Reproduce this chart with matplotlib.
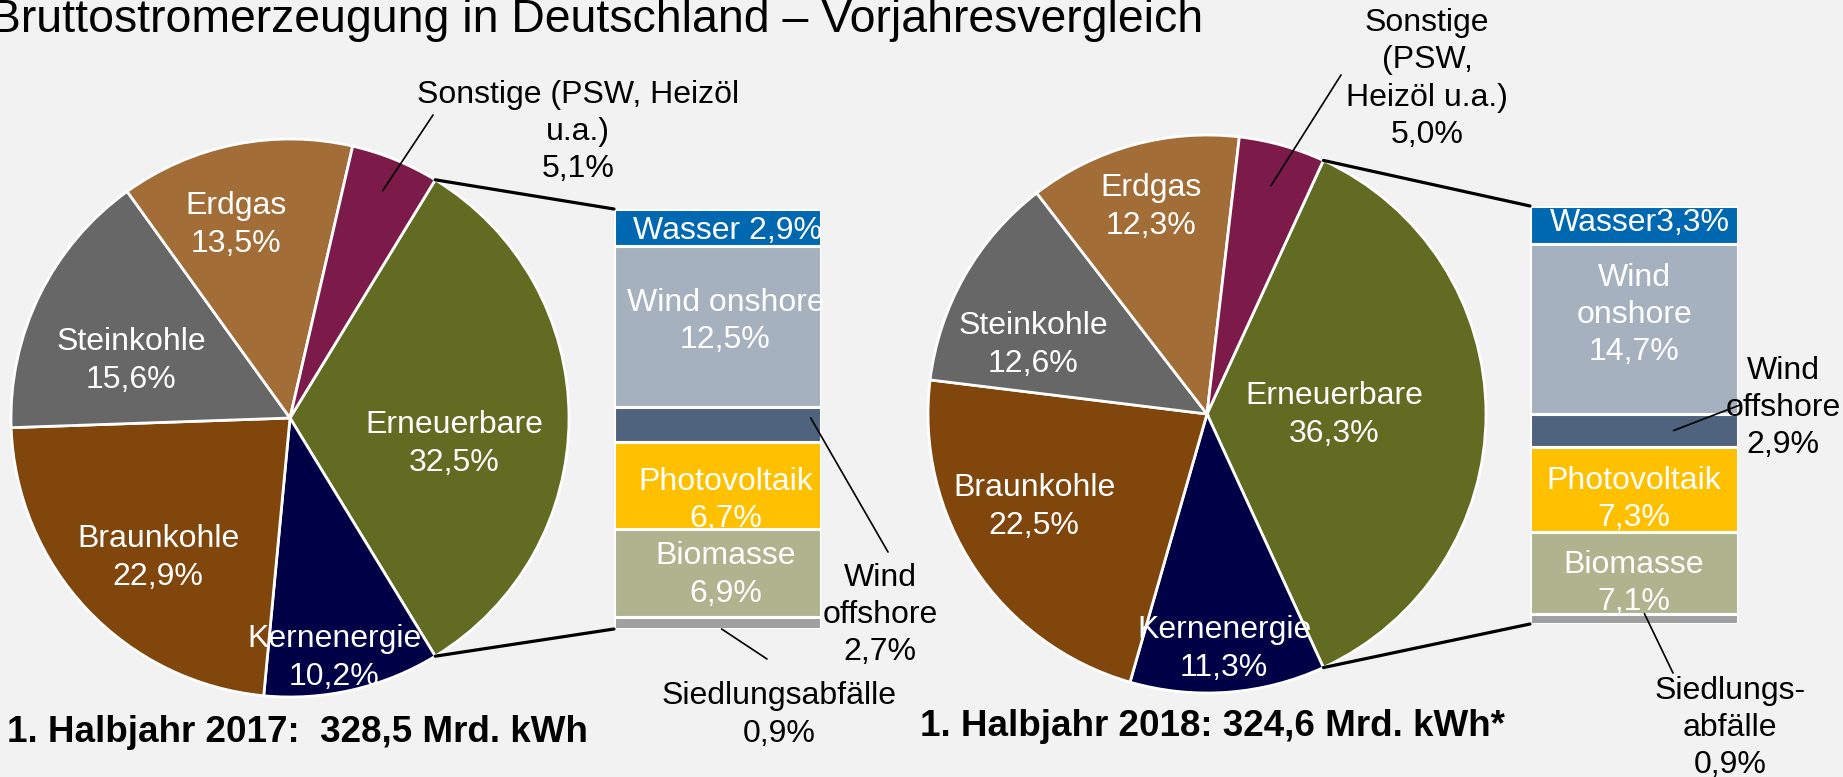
import matplotlib
matplotlib.use("Agg")
import matplotlib.pyplot as plt
from matplotlib.patches import ConnectionPatch
import numpy as np

plt.rcParams['font.family'] = ['Liberation Sans', 'DejaVu Sans']

# ---------------- data ----------------
pie_categories = ["Erneuerbare", "Kernenergie", "Braunkohle", "Steinkohle", "Erdgas",
                  "Sonstige (PSW, Heizöl u.a.)"]
pie_values_2017 = [32.5, 10.2, 22.9, 15.6, 13.5, 5.1]
pie_values_2018 = [36.3, 11.3, 22.5, 12.6, 12.3, 5.0]
bar_categories = ["Wasser", "Wind onshore", "Wind offshore", "Photovoltaik", "Biomasse",
                  "Siedlungsabfälle"]
bar_values_2017 = [2.9, 12.5, 2.7, 6.7, 6.9, 0.9]
bar_values_2018 = [3.3, 14.7, 2.9, 7.3, 7.1, 0.9]
period_titles = ["1. Halbjahr 2017:  328,5 Mrd. kWh", "1. Halbjahr 2018: 324,6 Mrd. kWh*"]
main_title = "Bruttostromerzeugung in Deutschland – Vorjahresvergleich"

# display names (line wrapping as in the original)
pie_names_2017 = ["Erneuerbare", "Kernenergie", "Braunkohle", "Steinkohle", "Erdgas",
                  "Sonstige (PSW, Heizöl\nu.a.)"]
pie_names_2018 = ["Erneuerbare", "Kernenergie", "Braunkohle", "Steinkohle", "Erdgas",
                  "Sonstige\n(PSW,\nHeizöl u.a.)"]
bar_names_2017 = ["Wasser ", "Wind onshore\n", "Wind\noffshore\n", "Photovoltaik\n",
                  "Biomasse\n", "Siedlungsabfälle\n"]
bar_names_2018 = ["Wasser", "Wind\nonshore\n", "Wind\noffshore\n", "Photovoltaik\n",
                  "Biomasse\n", "Siedlungs-\nabfälle\n"]

pie_colors = ["#616B22", "#000046", "#80460C", "#676767", "#A26D36", "#7C1B4A"]
bar_colors = ["#0068B0", "#A6B1BF", "#4F627E", "#FFC000", "#AFB38E", "#A0A0A0"]
BG = "#F2F2F2"


def pct(v):
    return f"{v:.1f}".replace(".", ",") + "%"


# ---------------- layout ----------------
W, H = 1843, 777
FS = 23
LS = 1.31
fig = plt.figure(figsize=(W / 100, H / 100), dpi=100, facecolor=BG)

ov = fig.add_axes([0, 0, 1, 1], zorder=10)
ov.set_xlim(0, W)
ov.set_ylim(H, 0)
ov.axis('off')
ov.patch.set_alpha(0)


def add_axes_px(x0, y0, x1, y1, **kw):
    return fig.add_axes([x0 / W, 1 - y1 / H, (x1 - x0) / W, (y1 - y0) / H], **kw)


panels = [
    dict(vals=pie_values_2017, names=pie_names_2017, bvals=bar_values_2017, bnames=bar_names_2017,
         center=(290, 418), r=279, bar=(614, 209, 821, 629),
         label_pos=[(454, 444), (334, 658), (158, 558), (131, 361), (236, 225)],
         sonst_pos=(578, 132), sonst_line=(0.88, (433, 115)),
         bdx=[10, 8, 0, 8, 8, 0], bdy=[3, -5, 0, 15, 2, 0],
         out_pos={2: (880, 615), 5: (779, 715)},
         out_line={2: ((0.45, 0.3), (888, 552)), 5: ((0.02, 1.0), (767, 659))},
         title=period_titles[0], title_pos=(7, 733)),
    dict(vals=pie_values_2018, names=pie_names_2018, bvals=bar_values_2018, bnames=bar_names_2018,
         center=(1207, 414), r=279, bar=(1530, 206, 1738, 624),
         label_pos=[(1334, 415), (1224, 649), (1034, 507), (1033, 345), (1151, 207)],
         sonst_pos=(1427, 79), sonst_line=(0.85, (1341, 75)),
         bdx=[6, 0, 0, 0, 0, 0], bdy=[-2, -14, 0, 10, 11, 0],
         out_pos={2: (1783, 408), 5: (1730, 728)},
         out_line={2: ((0.19, 0.5), (1740, 405)), 5: ((0.05, 0.0), (1673, 673))},
         title=period_titles[1], title_pos=(920, 727)),
]

for p in panels:
    cx, cy = p['center']
    r = p['r']
    pax = add_axes_px(cx - r, cy - r, cx + r, cy + r)
    vals = p['vals']
    total = sum(vals)
    start = 180.0 * vals[0] / total
    pax.pie(vals, colors=pie_colors, startangle=start, counterclock=False, radius=1,
            wedgeprops=dict(edgecolor='white', linewidth=2.0))
    pax.set_xlim(-1, 1)
    pax.set_ylim(-1, 1)
    pax.set_aspect('equal')
    pax.axis('off')

    # pie labels (white)
    for i in range(5):
        x, y = p['label_pos'][i]
        ov.text(x, y, p['names'][i] + "\n" + pct(vals[i]), ha='center', va='center',
                color='white', fontsize=FS, linespacing=LS)
    # Sonstige label (black, outside)
    sx, sy = p['sonst_pos']
    ov.text(sx, sy, p['names'][5] + "\n" + pct(vals[5]), ha='center', va='center',
            color='black', fontsize=FS, linespacing=LS)
    rr, endpt = p['sonst_line']
    mid = np.deg2rad(start + 180.0 * vals[5] / total)
    con = ConnectionPatch(xyA=(rr * np.cos(mid), rr * np.sin(mid)), coordsA=pax.transData,
                          xyB=endpt, coordsB=ov.transData, color='black', lw=1.2, zorder=20)
    fig.add_artist(con)

    # stacked bar for renewables
    x0, y0, x1, y1 = p['bar']
    bax = add_axes_px(x0, y0, x1, y1)
    bvals = p['bvals']
    btot = sum(bvals)
    bottoms = np.concatenate([[0], np.cumsum(bvals)[:-1]])
    bax.bar(np.zeros(len(bvals)), bvals, bottom=bottoms, width=1.0, color=bar_colors,
            edgecolor='white', linewidth=2.2)
    bax.set_xlim(-0.5, 0.5)
    bax.set_ylim(btot, 0)
    bax.axis('off')

    for i in [0, 1, 3, 4]:
        bax.annotate(p['bnames'][i] + pct(bvals[i]), xy=(0, bottoms[i] + bvals[i] / 2),
                     xytext=(p['bdx'][i], -p['bdy'][i]), textcoords='offset pixels',
                     ha='center', va='center', color='white', fontsize=FS, linespacing=LS,
                     annotation_clip=False)
    for i, (tx, ty) in p['out_pos'].items():
        ov.text(tx, ty, p['bnames'][i] + pct(bvals[i]), ha='center', va='center',
                color='black', fontsize=FS, linespacing=LS)
        (fx, fy), endpt = p['out_line'][i]
        con = ConnectionPatch(xyA=(fx, bottoms[i] + fy * bvals[i]), coordsA=bax.transData,
                              xyB=endpt, coordsB=ov.transData, color='black', lw=1.2, zorder=20)
        fig.add_artist(con)

    # connector lines pie -> bar
    th1 = np.deg2rad(start)
    th2 = np.deg2rad(-start)
    for th, corner in [(th1, (0, 1)), (th2, (0, 0))]:
        con = ConnectionPatch(xyA=(np.cos(th), np.sin(th)), coordsA=pax.transData,
                              xyB=corner, coordsB=bax.transAxes, color='black', lw=2.3, zorder=20)
        fig.add_artist(con)

    tx, ty = p['title_pos']
    ov.text(tx, ty, p['title'], ha='left', va='center', fontsize=26.5, fontweight='bold',
            color='black')

ov.text(-10, 32, main_title, ha='left', va='baseline', fontsize=33.4, color='black')

fig.savefig("out.png", dpi=100, facecolor=BG)
